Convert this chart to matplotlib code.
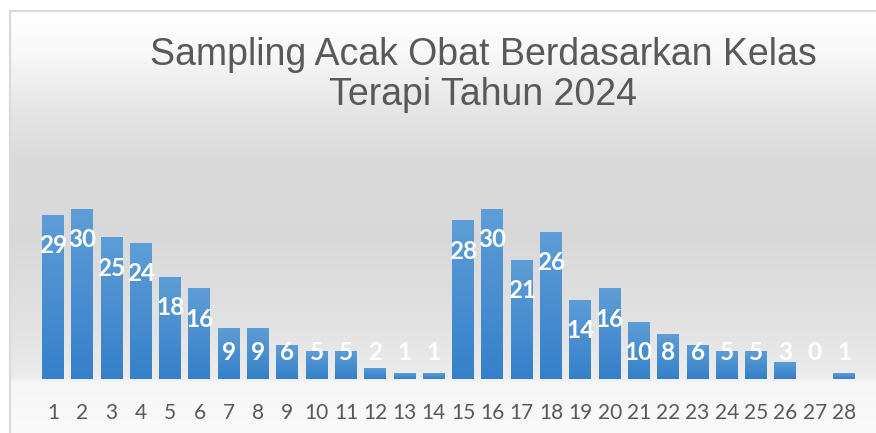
import numpy as np
import matplotlib
matplotlib.use("Agg")
import matplotlib.pyplot as plt
from matplotlib.colors import LinearSegmentedColormap, to_rgb
from matplotlib.patches import Rectangle

# ---- data ----
categories = [str(i) for i in range(1, 29)]
values = [29, 30, 25, 24, 18, 16, 9, 9, 6, 5, 5, 2, 1, 1,
          28, 30, 21, 26, 14, 16, 10, 8, 6, 5, 5, 3, 0, 1]
title = "Sampling Acak Obat Berdasarkan Kelas\nTerapi Tahun 2024"

W, H = 876, 433
fig = plt.figure(figsize=(W / 100, H / 100), dpi=100)
fig.patch.set_facecolor("white")

def fx(px):
    return px / W

def fy(py):
    return 1 - py / H

# ---- background gradient of chart area ----
bg_top, bg_bot = 12, 433
bg = fig.add_axes([fx(10.5), fy(bg_bot), 1 - fx(10.5), fy(bg_top) - fy(bg_bot)])
bg.set_axis_off()
stops_px = [12, 50, 110, 160, 240, 330, 376, 382, 433]
stops_gray = [1.0, 0.975, 0.90, 0.855, 0.85, 0.89, 0.925, 0.965, 0.98]
rows = np.arange(bg_top, bg_bot)
g = np.interp(rows, stops_px, stops_gray)
img = np.repeat(g[:, None, None], 3, axis=2)
bg.imshow(img, aspect="auto", extent=[0, 1, 0, 1], interpolation="bilinear")
bg.set_xlim(0, 1)
bg.set_ylim(0, 1)

# frame border
fig.patches.append(Rectangle((fx(9.5), fy(440)), 1.2, fy(11.3) - fy(440),
                             transform=fig.transFigure, fill=False,
                             edgecolor="#d9d9d9", linewidth=1.5, zorder=5))

# ---- main axes ----
base_px = 379
px_per_unit = 5.67
ymax = 35
left_px = 53 - 14.65
right_px = 844 + 14.65
ax = fig.add_axes([fx(left_px), fy(base_px), fx(right_px - left_px),
                   (ymax * px_per_unit) / H])
ax.patch.set_alpha(0)
x = np.arange(1, len(values) + 1)
bars = ax.bar(x, values, width=0.75, color="#4a8fd0", linewidth=0)
ax.set_xlim(0.5, len(values) + 0.5)
ax.set_ylim(0, ymax)

cmap = LinearSegmentedColormap.from_list("bar", [to_rgb("#3580ca"), to_rgb("#5e9dd7")])
grad = np.linspace(0, 1, 256)[:, None]
for b in bars:
    h = b.get_height()
    if h <= 0:
        continue
    x0 = b.get_x()
    im = ax.imshow(grad, cmap=cmap, aspect="auto", origin="lower",
                   extent=[x0, x0 + b.get_width(), 0, h], zorder=2,
                   interpolation="bilinear")
    im.set_clip_path(b)
ax.set_xlim(0.5, len(values) + 0.5)
ax.set_ylim(0, ymax)

for xi, v in zip(x, values):
    ax.text(xi, max(v - 5.45, 4.76), str(v), ha="center", va="center",
            color="white", fontsize=17.5, fontweight="bold", family="Lato",
            zorder=4)

for s in ax.spines.values():
    s.set_visible(False)
ax.set_yticks([])
ax.set_xticks(x)
ax.set_xticklabels(categories, fontsize=15, family="Lato", color="#595959")
ax.tick_params(axis="x", length=0, pad=17)

fig.text(fx(483), fy(75), title, ha="center", va="center", fontsize=27,
         family="Liberation Sans", color="#595959", linespacing=1.15)

fig.savefig("out.png", dpi=100)
